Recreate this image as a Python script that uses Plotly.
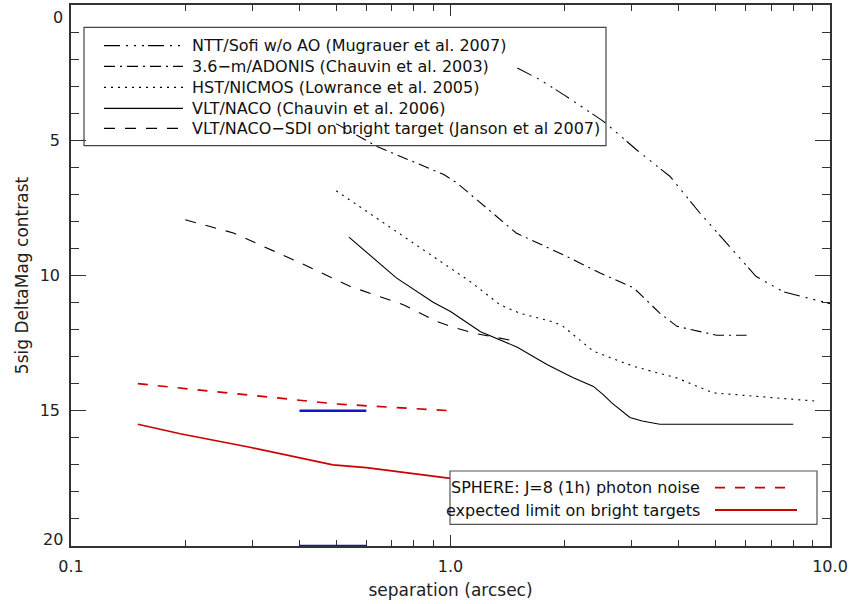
import plotly.graph_objects as go

# ---------------- data ----------------
ntt_x = [1.5, 1.72, 2.0, 2.53, 3.09, 3.79, 4.54, 5.34, 6.1, 6.38, 7.53, 10.0]
ntt_y = [2.33, 2.76, 3.34, 4.3, 5.35, 6.34, 7.69, 8.8, 9.72, 10.03, 10.6, 11.04]

adonis_x = [0.5, 0.64, 0.96, 1.04, 1.49, 2.02, 2.48, 2.97, 3.04, 3.56, 3.95, 5.03, 6.03]
adonis_y = [4.39, 5.23, 6.27, 6.58, 8.43, 9.29, 9.91, 10.4, 10.46, 11.39, 11.88, 12.21, 12.21]

nicmos_x = [0.5, 0.665, 0.883, 1.126, 1.35, 1.52, 1.87, 1.98, 2.38, 3.04, 3.95, 4.93, 9.3]
nicmos_y = [6.87, 8.04, 9.23, 10.22, 11.08, 11.39, 11.72, 11.88, 12.8, 13.36, 13.79, 14.34, 14.65]

naco_x = [0.54, 0.72, 0.9, 1.0, 1.2, 1.5, 1.8, 2.1, 2.38, 2.53, 2.66, 2.97, 3.2, 3.56, 8.0]
naco_y = [8.58, 10.09, 10.99, 11.33, 12.08, 12.65, 13.3, 13.77, 14.1, 14.41, 14.71, 15.25, 15.38, 15.5, 15.5]

sdi_x = [0.2, 0.268, 0.4, 0.543, 0.751, 0.92, 1.0, 1.15, 1.5]
sdi_y = [7.94, 8.43, 9.52, 10.4, 11.08, 11.7, 11.88, 12.13, 12.44]

sph_noise_x = [0.15, 0.5, 1.0]
sph_noise_y = [14.0, 14.75, 15.0]

sph_limit_x = [0.15, 0.194, 0.296, 0.402, 0.49, 0.6, 0.89, 1.0]
sph_limit_y = [15.5, 15.85, 16.35, 16.75, 17.0, 17.1, 17.43, 17.5]

blue_x = [0.4, 0.6]
blue_top_y = [15.0, 15.0]
blue_bot_y = [20.0, 20.0]

black_names = [
    "NTT/Sofi w/o AO (Mugrauer et al. 2007)",
    "3.6\u2212m/ADONIS (Chauvin et al. 2003)",
    "HST/NICMOS (Lowrance et al. 2005)",
    "VLT/NACO (Chauvin et al. 2006)",
    "VLT/NACO\u2212SDI on bright target (Janson et al 2007)",
]
sphere_names = [
    "SPHERE: J=8 (1h) photon noise",
    "expected limit on bright targets",
]

x_tickvals = [0.1, 1.0, 10.0]
x_ticktext = ["0.1", "1.0", "10.0"]
x_minor = [0.2, 0.3, 0.4, 0.5, 0.6, 0.7, 0.8, 0.9, 2, 3, 4, 5, 6, 7, 8, 9]
y_tickvals = [0, 5, 10, 15, 20]
y_ticktext = ["0", "5", "10", "15", "20"]

# ---------------- styles ----------------
FONT = "DejaVu Sans"
RED = "rgb(204,0,0)"
BLUE = "rgb(20,20,205)"
BLACK = "black"
dashes = [
    "16px,6px,2px,6px,2px,6px,2px,4px",
    "11px,5px,2px,5px",
    "2px,5px",
    "solid",
    "11px,10px",
]
sph_dashes = ["10px,10px", "solid"]

fig = go.Figure()
series = [(ntt_x, ntt_y), (adonis_x, adonis_y), (nicmos_x, nicmos_y),
          (naco_x, naco_y), (sdi_x, sdi_y)]
for (xs, ys), nm, ds in zip(series, black_names, dashes):
    fig.add_trace(go.Scatter(x=xs, y=ys, mode="lines", name=nm,
                             line=dict(color=BLACK, width=1.1, dash=ds),
                             showlegend=False))
for (xs, ys), nm, ds in zip([(sph_noise_x, sph_noise_y), (sph_limit_x, sph_limit_y)],
                            sphere_names, sph_dashes):
    fig.add_trace(go.Scatter(x=xs, y=ys, mode="lines", name=nm,
                             line=dict(color=RED, width=1.7, dash=ds),
                             showlegend=False))
for ys in (blue_top_y, blue_bot_y):
    fig.add_trace(go.Scatter(x=blue_x, y=ys, mode="lines", showlegend=False,
                             line=dict(color=BLUE, width=2.5), cliponaxis=False))

# ---------------- manual legends (paper coords) ----------------
L, T, W, H = 71, 5, 759, 541
def px(xp):
    return (xp - L) / W
def py(yp):
    return (T + H - yp) / H

shapes = []
annotations = []
shapes.append(dict(type="rect", xref="paper", yref="paper",
                   x0=px(84), x1=px(606), y0=py(145.7), y1=py(27.3),
                   line=dict(color="#444", width=1.2), fillcolor="rgba(0,0,0,0)"))
rows1 = [45.7, 66.3, 87.3, 108.3, 128.3]
for r, nm, ds in zip(rows1, black_names, dashes):
    shapes.append(dict(type="line", xref="paper", yref="paper",
                       x0=px(104), x1=px(183), y0=py(r), y1=py(r),
                       line=dict(color=BLACK, width=1.2, dash=ds)))
    annotations.append(dict(xref="paper", yref="paper", x=px(190), y=py(r),
                            text=nm, showarrow=False, xanchor="left", yanchor="middle",
                            font=dict(family=FONT, size=16, color="#111")))

shapes.append(dict(type="rect", xref="paper", yref="paper",
                   x0=px(450), x1=px(817), y0=py(524.3), y1=py(471),
                   line=dict(color="#555", width=1.2), fillcolor="white", layer="above"))
rows2 = [487.7, 510.0]
ends2 = [787, 797]
for r, nm, ds, e in zip(rows2, sphere_names, sph_dashes, ends2):
    shapes.append(dict(type="line", xref="paper", yref="paper",
                       x0=px(715), x1=px(e), y0=py(r), y1=py(r),
                       line=dict(color=RED, width=1.8, dash=ds)))
    annotations.append(dict(xref="paper", yref="paper", x=px(702), y=py(r),
                            text=nm, showarrow=False, xanchor="right", yanchor="middle",
                            font=dict(family=FONT, size=16, color="#111")))

# y tick labels 0 and 20 are nudged inward like the original
annotations.append(dict(xref="paper", yref="y", x=px(65), y=y_tickvals[0], text=y_ticktext[0],
                        showarrow=False, xanchor="right", yanchor="top", yshift=-1,
                        font=dict(family=FONT, size=16, color="#222")))
annotations.append(dict(xref="paper", yref="y", x=px(65), y=y_tickvals[-1], text=y_ticktext[-1],
                        showarrow=False, xanchor="right", yanchor="bottom", yshift=-5,
                        font=dict(family=FONT, size=16, color="#222")))

fig.update_layout(
    width=853, height=604,
    margin=dict(l=L, r=853 - L - W, t=T, b=604 - T - H, autoexpand=False),
    paper_bgcolor="white", plot_bgcolor="white",
    font=dict(family=FONT, size=16, color="#222"),
    shapes=shapes, annotations=annotations, showlegend=False,
)
fig.update_xaxes(
    type="log", range=[-1, 1], automargin=False,
    tickmode="array", tickvals=x_tickvals, ticktext=x_ticktext,
    ticks="inside", ticklen=11, tickwidth=1, tickcolor="#333",
    minor=dict(tickmode="array", tickvals=x_minor, ticks="inside", ticklen=6,
               tickwidth=1, tickcolor="#333", showgrid=False),
    showline=True, linecolor="#333", linewidth=1.5, mirror="ticks",
    showgrid=False, zeroline=False, layer="below traces",
    ticklabelstandoff=5,
    title=dict(text="separation (arcsec)", font=dict(family=FONT, size=17, color="#222"),
               standoff=9),
)
fig.update_yaxes(
    range=[20, 0], autorange=False, automargin=False,
    tickmode="array", tickvals=y_tickvals,
    ticktext=[""] + y_ticktext[1:-1] + [""],
    ticks="inside", ticklen=15, tickwidth=1, tickcolor="#333",
    minor=dict(tickmode="array", tickvals=[v for v in range(1, 20) if v % 5],
               ticks="inside", ticklen=8, tickwidth=1, tickcolor="#333", showgrid=False),
    showline=True, linecolor="#333", linewidth=1.5, mirror="ticks",
    showgrid=False, zeroline=False, layer="below traces",
    ticklabelstandoff=6,
    title=dict(text="5sig DeltaMag contrast", font=dict(family=FONT, size=17, color="#222"),
               standoff=7),
)

fig.write_html("out.html", config={"displayModeBar": False},
               post_script="document.body.style.margin='0';")
